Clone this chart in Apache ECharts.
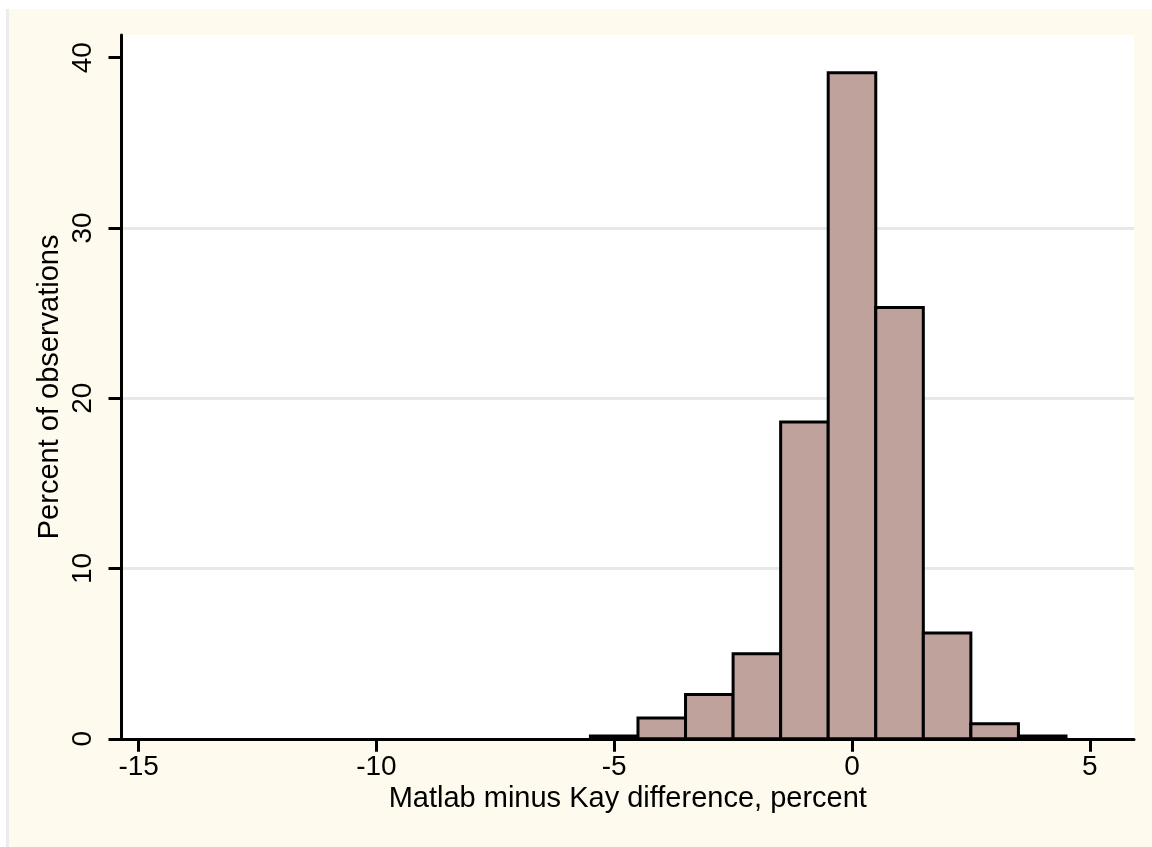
<!DOCTYPE html>
<html><head><meta charset="utf-8">
<script src="https://cdn.jsdelivr.net/npm/echarts@6/dist/echarts.min.js"></script>
<style>
html,body{margin:0;padding:0;background:#fff;}
#wrap{position:relative;width:1152px;height:847px;overflow:hidden;}
#cream{position:absolute;left:9px;top:9px;width:1143px;height:838px;background:#fffaee;}
#strip{position:absolute;left:6px;top:9px;width:3px;height:838px;background:#ececec;}
#chart{position:absolute;left:0;top:0;width:1152px;height:847px;}
</style></head><body>
<div id="wrap"><div id="cream"></div><div id="strip"></div><div id="chart"></div></div>
<script>
// Histogram bins (centre of each bin, width in x units) and bar heights (percent)
const binCenters = [-5, -4, -3, -2, -1, 0, 1, 2, 3, 4];
const percents = [0.17, 1.22, 2.60, 5.00, 18.60, 39.11, 25.33, 6.21, 0.89, 0.17];
const binWidth = 1;
// Axis extents and tick labels
const xMin = -15.36, xMax = 5.93;
const yMin = 0, yMax = 41.33;
const xTicks = [-15, -10, -5, 0, 5];
const yTicks = [0, 10, 20, 30, 40];
const xTitle = 'Matlab minus Kay difference, percent';
const yTitle = 'Percent of observations';

const FONT = '"Liberation Sans", Arial, Helvetica, sans-serif';
const chart = echarts.init(document.getElementById('chart'), null, {renderer: 'canvas'});
chart.setOption({
  backgroundColor: 'transparent',
  animation: false,
  grid: {
    left: 121.5, right: 18, top: 35, bottom: 108.2,
    show: true, backgroundColor: '#ffffff', borderWidth: 0,
    containLabel: false, outerBoundsMode: 'none'
  },
  xAxis: {
    type: 'value', min: xMin, max: xMax,
    axisLine: {show: true, onZero: false, lineStyle: {color: '#000', width: 3}},
    axisTick: {show: true, length: 13, lineStyle: {color: '#000', width: 3}, customValues: xTicks},
    axisLabel: {show: true, customValues: xTicks, margin: 14, color: '#000', fontSize: 28, fontFamily: FONT, hideOverlap: false},
    splitLine: {show: false},
    name: xTitle, nameLocation: 'middle', nameGap: 46, nameMoveOverlap: false,
    nameTextStyle: {color: '#000', fontSize: 29, fontFamily: FONT}
  },
  yAxis: {
    type: 'value', min: yMin, max: yMax,
    axisLine: {show: true, onZero: false, lineStyle: {color: '#000', width: 3}},
    axisTick: {show: true, length: 13, lineStyle: {color: '#000', width: 3}, customValues: yTicks},
    axisLabel: {show: true, customValues: yTicks, rotate: 90, margin: 24, color: '#000', fontSize: 28, fontFamily: FONT, hideOverlap: false},
    splitLine: {show: true, showMinLine: false, showMaxLine: false, lineStyle: {color: '#e8e8e8', width: 3}},
    name: yTitle, nameLocation: 'middle', nameGap: 57, nameRotate: 90, nameMoveOverlap: false,
    nameTextStyle: {color: '#000', fontSize: 29, fontFamily: FONT}
  },
  series: [{
    type: 'custom',
    encode: {x: 0, y: 1},
    data: binCenters.map((c, i) => [c, percents[i]]),
    renderItem: function (params, api) {
      const c = api.value(0), h = api.value(1);
      const p0 = api.coord([c - binWidth / 2, h]);
      const p1 = api.coord([c + binWidth / 2, 0]);
      return {
        type: 'rect',
        shape: {x: p0[0], y: p0[1], width: p1[0] - p0[0], height: p1[1] - p0[1]},
        style: {fill: '#bea29b', stroke: '#000', lineWidth: 3}
      };
    }
  }]
});
</script>
</body></html>
